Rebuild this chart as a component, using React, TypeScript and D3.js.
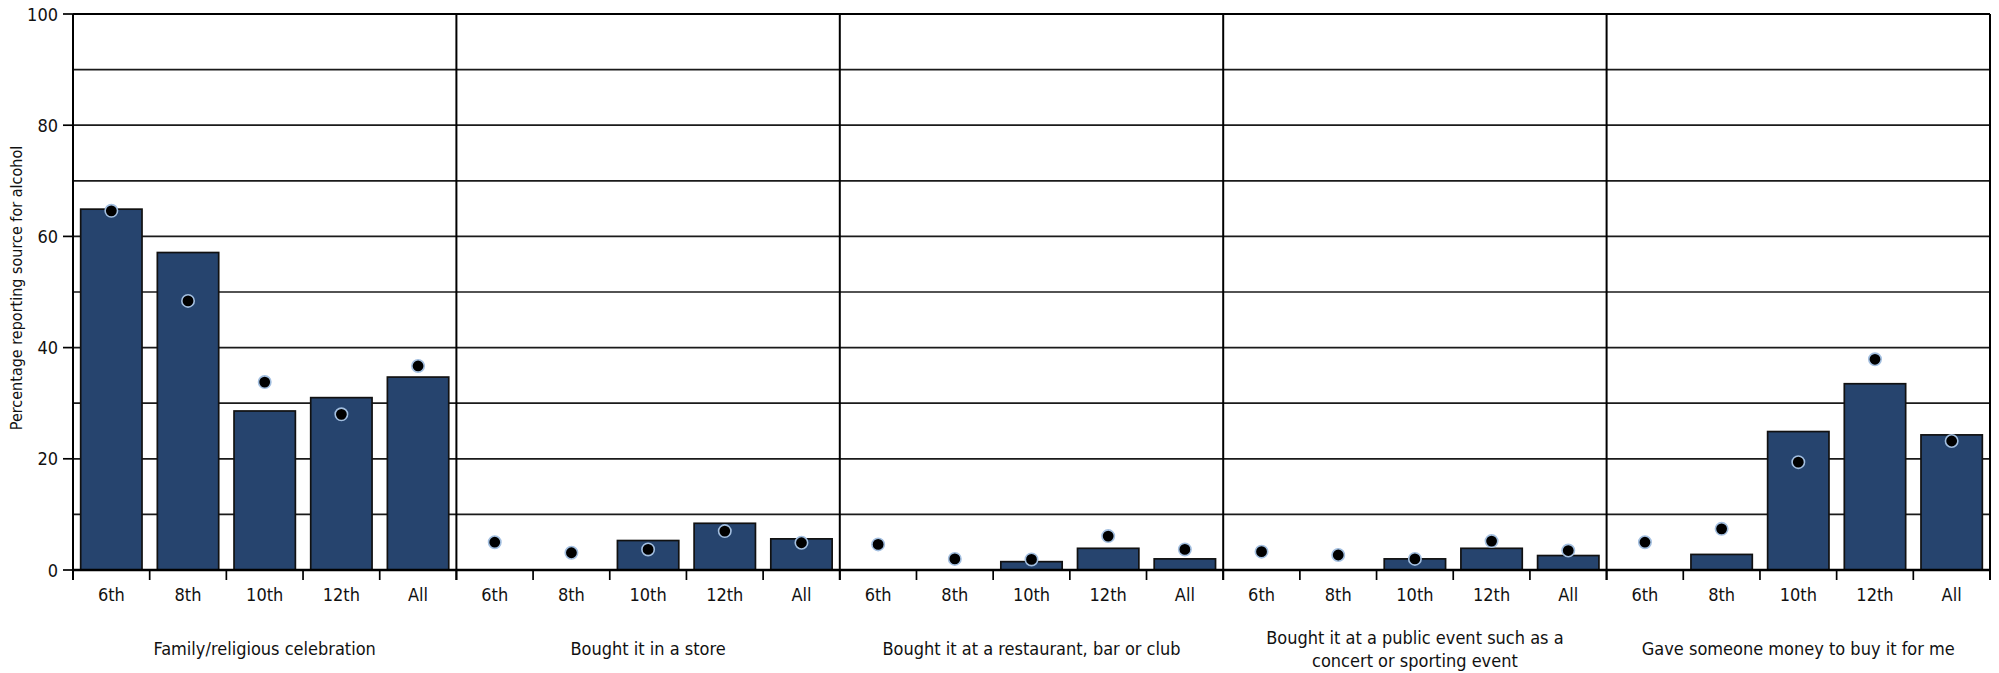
import React from "react";
import * as d3 from "d3";

const grades = ["6th", "8th", "10th", "12th", "All"];
const panelLabels = [
  ["Family/religious celebration"],
  ["Bought it in a store"],
  ["Bought it at a restaurant, bar or club"],
  ["Bought it at a public event such as a", "concert or sporting event"],
  ["Gave someone money to buy it for me"],
];
// bar values per panel (grades order)
const barFamily = [64.9, 57.1, 28.6, 31.0, 34.7];
const barStore = [0, 0, 5.3, 8.4, 5.6];
const barRestaurant = [0, 0, 1.5, 3.9, 2.0];
const barEvent = [0, 0, 2.0, 3.9, 2.6];
const barMoney = [0, 2.8, 24.9, 33.5, 24.3];
// dot values per panel
const dotFamily = [64.6, 48.4, 33.8, 28.0, 36.7];
const dotStore = [5.0, 3.1, 3.7, 7.0, 4.9];
const dotRestaurant = [4.6, 2.0, 1.9, 6.1, 3.7];
const dotEvent = [3.3, 2.7, 2.0, 5.2, 3.5];
const dotMoney = [5.0, 7.4, 19.4, 37.9, 23.2];

const yTicks = [0, 20, 40, 60, 80, 100];
const gridValues = [10, 20, 30, 40, 50, 60, 70, 80, 90];
const yTitle = "Percentage reporting source for alcohol";

const bars = [barFamily, barStore, barRestaurant, barEvent, barMoney];
const dots = [dotFamily, dotStore, dotRestaurant, dotEvent, dotMoney];

const W = 1999;
const H = 673;
const left = 73;
const right = 1990;
const top = 14;
const bottom = 570;
const FONT = "'Liberation Sans Narrow', 'DejaVu Sans Condensed', 'Open Sans', sans-serif";

export default function App() {
  const y = d3.scaleLinear().domain([0, 100]).range([bottom, top]);
  const panel = d3
    .scaleBand<number>()
    .domain(d3.range(5))
    .range([left, right])
    .padding(0);
  const pw = panel.bandwidth();

  return (
    <svg
      width={W}
      height={H}
      style={{ position: "absolute", left: 0, top: 0, background: "#fff" }}
      fontFamily={FONT}
    >
      {/* gridlines */}
      {gridValues.map((v) => (
        <line key={"g" + v} x1={left} x2={right} y1={y(v)} y2={y(v)} stroke="#1a1a1a" strokeWidth={1.7} />
      ))}
      <line x1={left} x2={right} y1={y(100)} y2={y(100)} stroke="#000" strokeWidth={2.2} />

      {/* panels */}
      {bars.map((vals, p) => {
        const x0 = panel(p)!;
        const xb = d3
          .scaleBand<string>()
          .domain(grades)
          .range([x0, x0 + pw])
          .paddingInner(0.2)
          .paddingOuter(0.1);
        const xc = d3.scaleBand<string>().domain(grades).range([x0, x0 + pw]).padding(0);
        return (
          <g key={"p" + p}>
            {vals.map((v, i) =>
              v > 0 ? (
                <rect
                  key={"b" + i}
                  x={xb(grades[i])!}
                  y={y(v)}
                  width={xb.bandwidth()}
                  height={y(0) - y(v)}
                  fill="#26446e"
                  stroke="#111"
                  strokeWidth={1.7}
                />
              ) : null
            )}
            {dots[p].map((v, i) => (
              <circle
                key={"d" + i}
                cx={xc(grades[i])! + xc.bandwidth() / 2}
                cy={y(v)}
                r={6.2}
                fill="#000"
                stroke="#a3bfe0"
                strokeWidth={1.6}
              />
            ))}
            {/* category ticks */}
            {grades.map((g, i) => (
              <line
                key={"t" + i}
                x1={xc(g)!}
                x2={xc(g)!}
                y1={bottom}
                y2={bottom + 10}
                stroke="#000"
                strokeWidth={1.7}
              />
            ))}
            {grades.map((g, i) => (
              <text
                key={"l" + i}
                x={xc(g)! + xc.bandwidth() / 2}
                y={594}
                textAnchor="middle"
                dominantBaseline="central"
                fontSize={18}
                fill="#111"
              >
                {g}
              </text>
            ))}
            {panelLabels[p].map((line, li) => (
              <text
                key={"pl" + li}
                x={x0 + pw / 2}
                y={panelLabels[p].length === 1 ? 648 : 637 + li * 23}
                textAnchor="middle"
                dominantBaseline="central"
                fontSize={18}
                fill="#111"
              >
                {line}
              </text>
            ))}
          </g>
        );
      })}

      {/* panel separators */}
      {d3.range(6).map((k) => {
        const x = k < 5 ? panel(k)! : right;
        return (
          <line key={"s" + k} x1={x} x2={x} y1={top} y2={bottom + 10} stroke="#000" strokeWidth={2} />
        );
      })}

      {/* zero axis */}
      <line x1={left} x2={right} y1={bottom} y2={bottom} stroke="#000" strokeWidth={2.5} />

      {/* y axis ticks */}
      {yTicks.map((v) => (
        <g key={"yt" + v}>
          <line x1={left - 10} x2={left} y1={y(v)} y2={y(v)} stroke="#000" strokeWidth={1.7} />
          <text
            x={58}
            y={y(v)}
            textAnchor="end"
            dominantBaseline="central"
            fontSize={18}
            fill="#111"
          >
            {v}
          </text>
        </g>
      ))}
      <text
        transform={`translate(16, ${(top + bottom) / 2 - 4}) rotate(-90)`}
        textAnchor="middle"
        dominantBaseline="central"
        fontSize={16}
        fill="#111"
      >
        {yTitle}
      </text>
    </svg>
  );
}
